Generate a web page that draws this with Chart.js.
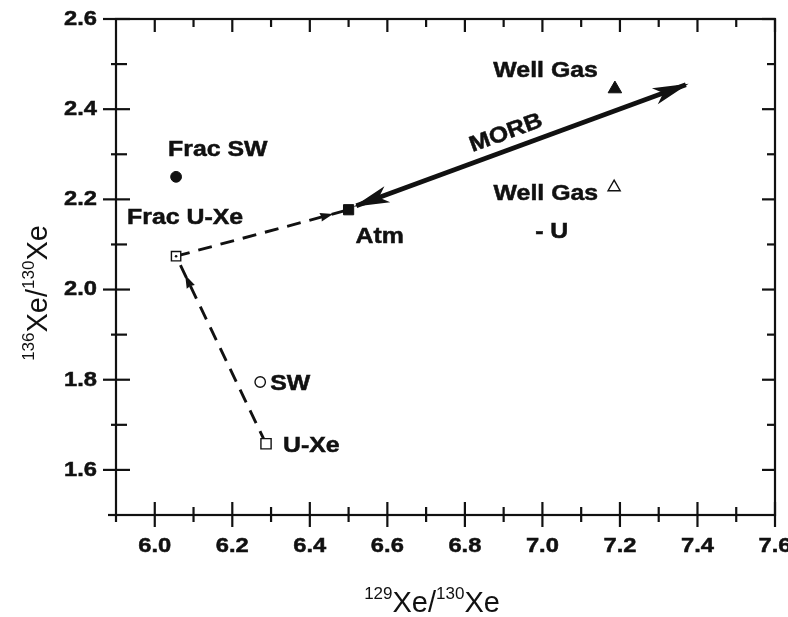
<!DOCTYPE html>
<html>
<head>
<meta charset="utf-8">
<script src="https://cdn.jsdelivr.net/npm/chart.js@4/dist/chart.umd.min.js"></script>
<style>
  html, body { margin: 0; padding: 0; background: #fff; }
  #wrap { width: 788px; height: 617px; }
</style>
</head>
<body>
<div id="wrap"><canvas id="c" width="788" height="617"></canvas></div>
<script>
// Xenon isotope ratios of the reservoirs
const sampleNames = ['Frac SW', 'Frac U-Xe', 'Atm', 'SW', 'U-Xe', 'Well Gas', 'Well Gas - U'];
const xe129 = [6.055, 6.055, 6.500, 6.272, 6.287, 7.187, 7.185];   // 129Xe/130Xe
const xe136 = [2.250, 2.074, 2.177, 1.795, 1.658, 2.445, 2.227];   // 136Xe/130Xe

// MORB trend (double-headed arrow)
const morbX = [6.52, 7.37];
const morbY = [2.186, 2.454];

// dashed paths, as [from, to] indices into the sample arrays
const pathFracToAtm = [1, 2];
const pathUXeToFrac = [4, 1];

// axis ticks
const xMajorTicks = [6.0, 6.2, 6.4, 6.6, 6.8, 7.0, 7.2, 7.4, 7.6];
const xMinorTicks = [6.1, 6.3, 6.5, 6.7, 6.9, 7.1, 7.3, 7.5];
const yMajorTicks = [1.6, 1.8, 2.0, 2.2, 2.4, 2.6];
const yMinorTicks = [1.7, 1.9, 2.1, 2.3, 2.5];

const INK = '#111';
const FONT = '"Liberation Sans", Arial, Helvetica, sans-serif';
const SX = 1.13;   // horizontal stretch of the bold lettering

// marker look per sample
const markerStyle = {
  'Frac SW':      { pointStyle: 'circle',   radius: 5.4, filled: true },
  'Frac U-Xe':    { pointStyle: 'rect',     radius: 6.6, filled: false },
  'Atm':          { pointStyle: 'rect',     radius: 7.2, filled: true },
  'SW':           { pointStyle: 'circle',   radius: 5.2, filled: false },
  'U-Xe':         { pointStyle: 'rect',     radius: 7.2, filled: false },
  'Well Gas':     { pointStyle: 'triangle', radius: 7.8, filled: true },
  'Well Gas - U': { pointStyle: 'triangle', radius: 7.0, filled: false }
};

// label placement: pixel offsets from the sample point
const labelPlace = [
  { name: 'Frac SW',      text: 'Frac SW',   dx: -8,  dy: -27, align: 'left' },
  { name: 'Frac U-Xe',    text: 'Frac U-Xe', dx: -49, dy: -38, align: 'left' },
  { name: 'Atm',          text: 'Atm',       dx: 7,   dy: 27,  align: 'left' },
  { name: 'SW',           text: 'SW',        dx: 10,  dy: 2,   align: 'left' },
  { name: 'U-Xe',         text: 'U-Xe',      dx: 17,  dy: 2,   align: 'left' },
  { name: 'Well Gas',     text: 'Well Gas',  dx: -17, dy: -18, align: 'right' },
  { name: 'Well Gas - U', text: 'Well Gas',  dx: -16, dy: 7,   align: 'right' },
  { name: 'Well Gas - U', text: '- U',       dx: -79, dy: 45,  align: 'left' }
];

const idx = n => sampleNames.indexOf(n);

// ---- datasets ----
const datasets = [];
sampleNames.forEach((n, i) => {
  const st = markerStyle[n];
  datasets.push({
    label: n,
    data: [{ x: xe129[i], y: xe136[i] }],
    pointStyle: st.pointStyle,
    pointRadius: st.radius,
    pointBackgroundColor: st.filled ? INK : '#fff',
    pointBorderColor: INK,
    pointBorderWidth: st.filled ? 1 : 1.4,
    showLine: false,
    order: 1
  });
});
// centre dot of the Frac U-Xe square
datasets.push({
  label: 'Frac U-Xe centre',
  data: [{ x: xe129[idx('Frac U-Xe')], y: xe136[idx('Frac U-Xe')] }],
  pointStyle: 'circle', pointRadius: 1.3,
  pointBackgroundColor: INK, pointBorderWidth: 0, showLine: false, order: 0
});
[pathFracToAtm, pathUXeToFrac].forEach((p, k) => {
  datasets.push({
    label: 'path' + k,
    data: p.map(i => ({ x: xe129[i], y: xe136[i] })),
    showLine: true, borderColor: INK, borderWidth: 2.9,
    borderDash: [14, 9], pointRadius: 0, fill: false, order: 5
  });
});
datasets.push({
  label: 'MORB',
  data: morbX.map((v, i) => ({ x: v, y: morbY[i] })),
  showLine: true, borderColor: INK, borderWidth: 4.8,
  pointRadius: 0, fill: false, order: 4
});

// ---- drawing helpers ----
function stretchedText(ctx, s, x, y, font, align) {
  ctx.save();
  ctx.font = font;
  ctx.textBaseline = 'middle';
  ctx.textAlign = 'left';
  const w = ctx.measureText(s).width * SX;
  const x0 = align === 'right' ? x - w : align === 'center' ? x - w / 2 : x;
  ctx.translate(x0, y);
  ctx.scale(SX, 1);
  ctx.fillStyle = INK;
  ctx.strokeStyle = INK;
  ctx.lineWidth = 0.5;
  ctx.fillText(s, 0, 0);
  ctx.strokeText(s, 0, 0);
  ctx.restore();
}

// superscripted isotope ratio text, drawn along the current x direction
function isotopeTitle(ctx, a, b, cx, baseY) {
  const big = '29px ' + FONT, small = '17px ' + FONT;
  const parts = [[a, small, -13], ['Xe/', big, 0], [b, small, -13], ['Xe', big, 0]];
  let total = 0;
  parts.forEach(p => { ctx.font = p[1]; total += ctx.measureText(p[0]).width; });
  let x = cx - total / 2;
  ctx.fillStyle = INK;
  ctx.textBaseline = 'alphabetic';
  ctx.textAlign = 'left';
  parts.forEach(p => {
    ctx.font = p[1];
    ctx.fillText(p[0], x, baseY + p[2]);
    x += ctx.measureText(p[0]).width;
  });
}

function arrowHead(ctx, tx, ty, ang, len, half, notch) {
  const c = Math.cos(ang), s = Math.sin(ang);
  const pt = (along, across) => [tx - c * along - s * across, ty - s * along + c * across];
  const p1 = pt(len, half), p2 = pt(notch, 0), p3 = pt(len, -half);
  ctx.beginPath();
  ctx.moveTo(tx, ty);
  ctx.lineTo(p1[0], p1[1]);
  ctx.lineTo(p2[0], p2[1]);
  ctx.lineTo(p3[0], p3[1]);
  ctx.closePath();
  ctx.fill();
}

const decorPlugin = {
  id: 'decor',
  afterDatasetsDraw(chart) {
    const { ctx, scales: { x, y } } = chart;
    ctx.save();
    ctx.fillStyle = INK;
    // MORB arrow heads
    const ax = morbX.map(v => x.getPixelForValue(v));
    const ay = morbY.map(v => y.getPixelForValue(v));
    const ang = Math.atan2(ay[1] - ay[0], ax[1] - ax[0]);
    arrowHead(ctx, ax[1] + 3 * Math.cos(ang), ay[1] + 3 * Math.sin(ang), ang, 36, 8.5, 27);
    arrowHead(ctx, ax[0] - 3 * Math.cos(ang), ay[0] - 3 * Math.sin(ang), ang + Math.PI, 36, 8.5, 27);
    // wedges on the dashed paths, pointing to the end sample
    [[pathFracToAtm, 16], [pathUXeToFrac, 21]].forEach(([p, gap]) => {
      const x0 = x.getPixelForValue(xe129[p[0]]), y0 = y.getPixelForValue(xe136[p[0]]);
      const x1 = x.getPixelForValue(xe129[p[1]]), y1 = y.getPixelForValue(xe136[p[1]]);
      const a = Math.atan2(y1 - y0, x1 - x0);
      arrowHead(ctx, x1 - gap * Math.cos(a), y1 - gap * Math.sin(a), a, 13, 4.5, 12);
    });
    ctx.restore();
  },
  afterDraw(chart) {
    const { ctx, chartArea: A, scales: { x, y } } = chart;
    ctx.save();
    ctx.strokeStyle = INK;
    ctx.lineWidth = 2.2;
    ctx.lineCap = 'butt';
    const seg = (x1, y1, x2, y2) => { ctx.beginPath(); ctx.moveTo(x1, y1); ctx.lineTo(x2, y2); ctx.stroke(); };
    ctx.strokeRect(A.left, A.top, A.right - A.left, A.bottom - A.top);
    seg(A.left - 8, A.bottom, A.left, A.bottom);
    seg(A.left, A.bottom, A.left, A.bottom + 7);
    xMajorTicks.forEach(v => {
      const p = x.getPixelForValue(v);
      seg(p, A.bottom - 13, p, A.bottom + 12);
      seg(p, A.top, p, A.top + 13);
    });
    xMinorTicks.forEach(v => {
      const p = x.getPixelForValue(v);
      seg(p, A.bottom - 8, p, A.bottom + 7);
      seg(p, A.top, p, A.top + 8);
    });
    yMajorTicks.forEach(v => {
      const p = y.getPixelForValue(v);
      seg(A.left - 13, p, A.left + 14, p);
      seg(A.right - 13, p, A.right, p);
    });
    yMinorTicks.forEach(v => {
      const p = y.getPixelForValue(v);
      seg(A.left - 5, p, A.left + 11, p);
      seg(A.right - 8, p, A.right, p);
    });
    // tick labels
    const tickFont = 'bold 21px ' + FONT;
    xMajorTicks.forEach(v => stretchedText(ctx, v.toFixed(1), x.getPixelForValue(v), A.bottom + 31, tickFont, 'center'));
    yMajorTicks.forEach(v => stretchedText(ctx, v.toFixed(1), A.left - 19, y.getPixelForValue(v), tickFont, 'right'));
    // axis titles
    isotopeTitle(ctx, '129', '130', 432, 612);
    ctx.save();
    ctx.translate(47, 293);
    ctx.rotate(-Math.PI / 2);
    isotopeTitle(ctx, '136', '130', 0, 0);
    ctx.restore();
    // sample labels
    const lblFont = 'bold 22px ' + FONT;
    labelPlace.forEach(l => {
      const i = idx(l.name);
      const px = x.getPixelForValue(xe129[i]), py = y.getPixelForValue(xe136[i]);
      stretchedText(ctx, l.text, px + l.dx, py + l.dy, lblFont, l.align);
    });
    // MORB label along the arrow
    const ax = morbX.map(v => x.getPixelForValue(v));
    const ay = morbY.map(v => y.getPixelForValue(v));
    const ang = Math.atan2(ay[1] - ay[0], ax[1] - ax[0]);
    ctx.save();
    ctx.translate((ax[0] + ax[1]) / 2 - 15, (ay[0] + ay[1]) / 2 - 12);
    ctx.rotate(ang);
    stretchedText(ctx, 'MORB', 0, 0, 'bold 22px ' + FONT, 'center');
    ctx.restore();
    ctx.restore();
  }
};

new Chart(document.getElementById('c'), {
  type: 'scatter',
  data: { datasets },
  options: {
    responsive: false,
    animation: false,
    events: [],
    layout: { padding: { top: 19, right: 13, left: 0, bottom: 0 } },
    plugins: { legend: { display: false }, tooltip: { enabled: false } },
    scales: {
      x: {
        type: 'linear', min: 5.9, max: 7.6,
        grid: { display: false }, border: { display: false },
        ticks: { display: false },
        afterFit: s => { s.height = 102; }
      },
      y: {
        type: 'linear', min: 1.5, max: 2.6,
        grid: { display: false }, border: { display: false },
        ticks: { display: false },
        afterFit: s => { s.width = 116; }
      }
    }
  },
  plugins: [decorPlugin]
});
</script>
</body>
</html>
